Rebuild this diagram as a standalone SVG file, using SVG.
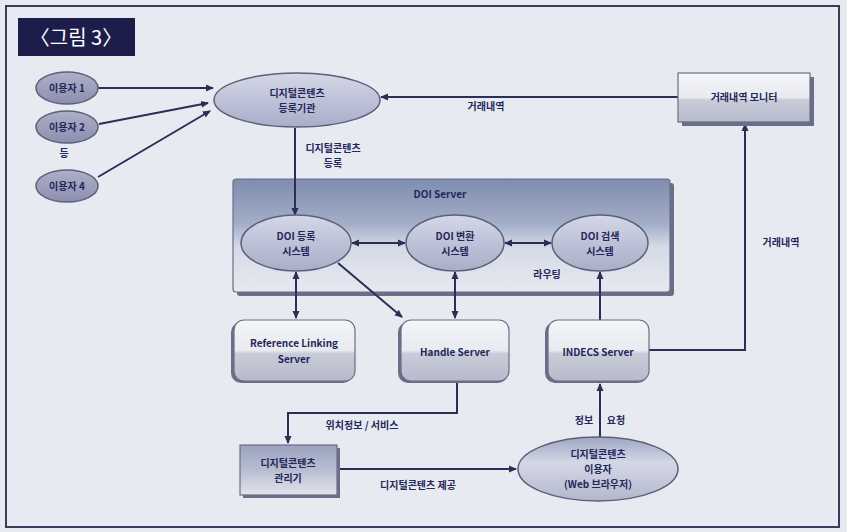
<svg xmlns="http://www.w3.org/2000/svg" width="847" height="532" viewBox="0 0 847 532">
<defs>
<linearGradient id="gEll" x1="0" y1="0" x2="0" y2="1"><stop offset="0" stop-color="#d4d7e6"/><stop offset="1" stop-color="#a9adc8"/></linearGradient>
<linearGradient id="gUser" x1="0" y1="0" x2="0" y2="1"><stop offset="0" stop-color="#aeb0c8"/><stop offset="1" stop-color="#8c8eb0"/></linearGradient>
<linearGradient id="gBox" x1="0" y1="0" x2="0" y2="1"><stop offset="0" stop-color="#f4f5f8"/><stop offset="0.5" stop-color="#e8eaf0"/><stop offset="0.55" stop-color="#c9ccd8"/><stop offset="1" stop-color="#b6bacb"/></linearGradient>
<linearGradient id="gSrv" x1="0" y1="0" x2="0" y2="1"><stop offset="0" stop-color="#7f8cae"/><stop offset="0.4" stop-color="#a3aec8"/><stop offset="0.6" stop-color="#d5dae6"/><stop offset="1" stop-color="#e6e9f0"/></linearGradient>
<linearGradient id="gMgr" x1="0" y1="0" x2="0" y2="1"><stop offset="0" stop-color="#9aa2bf"/><stop offset="0.5" stop-color="#b8bdd0"/><stop offset="1" stop-color="#e2e4ec"/></linearGradient>
<linearGradient id="gWeb" x1="0" y1="0" x2="0" y2="1"><stop offset="0" stop-color="#9ea6c2"/><stop offset="0.4" stop-color="#d4d8e6"/><stop offset="1" stop-color="#b2b7cc"/></linearGradient>
<marker id="ah" markerWidth="8" markerHeight="8" refX="7" refY="4" orient="auto-start-reverse" markerUnits="userSpaceOnUse"><path d="M0,0.5 L8,4 L0,7.5 Z" fill="#2b2f55"/></marker>
</defs>
<style>
.t{font-family:"Noto Sans CJK KR","Liberation Sans",sans-serif;font-weight:bold;font-size:10px;fill:#23275a;text-anchor:middle}
.ln{fill:none;stroke:#2b2f55;stroke-width:2}
.ell{fill:url(#gEll);stroke:#5c6078;stroke-width:1.5}
.usr{fill:url(#gUser);stroke:#5c6078;stroke-width:1.5}
.box{fill:url(#gBox);stroke:#6a6e88;stroke-width:1.2}
.sh{fill:#6a6e88}
</style>
<rect x="0" y="0" width="847" height="532" fill="#e7eaf0"/>
<rect x="6" y="6" width="833" height="521" fill="none" stroke="#3a3d5a" stroke-width="2"/>
<g id="title"><rect x="18" y="18" width="117" height="38" fill="#1d1d4c"/><text x="76" y="45" font-family="Noto Sans CJK KR,sans-serif" font-size="20" fill="#ffffff" text-anchor="middle">〈그림 3〉</text></g>

<g id="doi-server"><rect x="237" y="183" width="437" height="113" rx="3" class="sh"/><rect x="233" y="179" width="437" height="113" rx="3" fill="url(#gSrv)" stroke="#6a6e88" stroke-width="1.2"/><text class="t" x="440" y="198">DOI Server</text></g>

<g id="connectors">
<line class="ln" x1="98" y1="88" x2="213" y2="88" marker-end="url(#ah)"/>
<line class="ln" x1="99" y1="124" x2="208" y2="103" stroke-width="1.5" marker-end="url(#ah)"/>
<line class="ln" x1="98" y1="177" x2="210" y2="111" marker-end="url(#ah)"/>
<line class="ln" x1="678" y1="97" x2="381" y2="97" stroke="#6f7a8c" stroke-width="1.5" marker-end="url(#ah)"/>
<line class="ln" x1="295" y1="128" x2="295" y2="215" marker-end="url(#ah)"/>
<line class="ln" x1="352" y1="243" x2="405" y2="243" stroke-width="1.5" marker-start="url(#ah)" marker-end="url(#ah)"/>
<line class="ln" x1="505" y1="243" x2="551" y2="243" stroke-width="1.5" marker-start="url(#ah)" marker-end="url(#ah)"/>
<line class="ln" x1="296" y1="272" x2="296" y2="318" marker-start="url(#ah)" marker-end="url(#ah)"/>
<line class="ln" x1="455" y1="272" x2="455" y2="318" marker-start="url(#ah)" marker-end="url(#ah)"/>
<line class="ln" x1="338" y1="263" x2="402" y2="317" marker-end="url(#ah)"/>
<line class="ln" x1="600" y1="320" x2="600" y2="272" marker-end="url(#ah)"/>
<polyline class="ln" points="648,350 745,350 745,124" marker-end="url(#ah)"/>
<polyline class="ln" points="457,382 457,413 288,413 288,443" marker-end="url(#ah)"/>
<line class="ln" x1="337" y1="469" x2="516" y2="469" marker-end="url(#ah)"/>
<line class="ln" x1="600" y1="437" x2="600" y2="384" marker-end="url(#ah)"/>
<text class="t" x="486" y="110">거래내역</text>
<text class="t" x="333" y="152">디지털콘텐츠</text>
<text class="t" x="333" y="167">등록</text>
<text class="t" x="547" y="278">라우팅</text>
<text class="t" x="781" y="246">거래내역</text>
<text class="t" x="362" y="429">위치정보 / 서비스</text>
<text class="t" x="418" y="489">디지털콘텐츠 제공</text>
<text class="t" x="584" y="424">정보</text>
<text class="t" x="616" y="424">요청</text>
</g>

<g id="user1"><ellipse class="usr" cx="67" cy="88" rx="31" ry="16"/><text class="t" x="67" y="92" font-size="8">이용자 1</text></g>
<g id="user2"><ellipse class="usr" cx="67" cy="127" rx="31" ry="16"/><text class="t" x="67" y="131" font-size="8">이용자 2</text></g>
<text class="t" x="64" y="157" font-size="9">등</text>
<g id="user4"><ellipse class="usr" cx="67" cy="186" rx="31" ry="16"/><text class="t" x="67" y="190" font-size="8">이용자 4</text></g>

<g id="registrar"><ellipse class="ell" cx="297" cy="100" rx="83" ry="27"/><text class="t" x="297" y="97">디지털콘텐츠</text><text class="t" x="297" y="112">등록기관</text></g>

<g id="monitor"><rect x="682" y="77" width="132" height="49" class="sh"/><rect x="678" y="73" width="132" height="49" class="box"/><text class="t" x="744" y="101">거래내역 모니터</text></g>

<g id="doi-reg"><ellipse class="ell" cx="296" cy="243" rx="55" ry="28"/><text class="t" x="296" y="240">DOI 등록</text><text class="t" x="296" y="255">시스템</text></g>
<g id="doi-conv"><ellipse class="ell" cx="455" cy="243" rx="49" ry="28"/><text class="t" x="455" y="240">DOI 변환</text><text class="t" x="455" y="255">시스템</text></g>
<g id="doi-search"><ellipse class="ell" cx="600" cy="243" rx="48" ry="28"/><text class="t" x="600" y="240">DOI 검색</text><text class="t" x="600" y="255">시스템</text></g>

<g id="ref-linking"><rect x="231" y="322" width="122" height="61" rx="10" class="sh"/><rect x="234" y="320" width="121" height="61" rx="10" class="box"/><text class="t" x="294" y="347">Reference Linking</text><text class="t" x="294" y="363">Server</text></g>
<g id="handle"><rect x="398" y="322" width="110" height="61" rx="10" class="sh"/><rect x="401" y="320" width="108" height="61" rx="10" class="box"/><text class="t" x="455" y="356">Handle Server</text></g>
<g id="indecs"><rect x="545" y="322" width="103" height="61" rx="10" class="sh"/><rect x="548" y="320" width="101" height="61" rx="10" class="box"/><text class="t" x="598" y="356">INDECS Server</text></g>

<g id="manager"><rect x="243" y="448" width="97" height="50" class="sh"/><rect x="240" y="445" width="97" height="50" fill="url(#gMgr)" stroke="#6a6e88" stroke-width="1.2"/><text class="t" x="288" y="467">디지털콘텐츠</text><text class="t" x="288" y="482">관리기</text></g>

<g id="web-user"><ellipse cx="598" cy="469" rx="80" ry="32" fill="url(#gWeb)" stroke="#5c6078" stroke-width="1.5"/><text class="t" x="598" y="458">디지털콘텐츠</text><text class="t" x="598" y="473">이용자</text><text class="t" x="598" y="488">(Web 브라우저)</text></g>
</svg>
